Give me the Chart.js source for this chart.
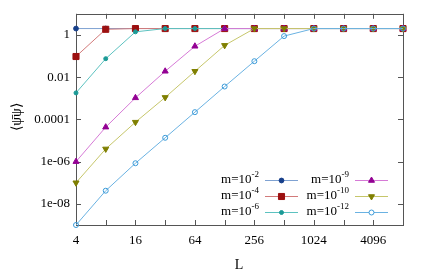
<!DOCTYPE html>
<html>
<head>
<meta charset="utf-8">
<script src="https://cdn.jsdelivr.net/npm/chart.js@4/dist/chart.umd.min.js"></script>
<style>
  html, body { margin: 0; padding: 0; background: #fff; }
  #c { display: block; }
</style>
</head>
<body>
<canvas id="c" width="424" height="277"></canvas>
<script>
// data
var L_vals = [4, 8, 16, 32, 64, 128, 256, 512, 1024, 2048, 4096, 8192];
var x_ticks = [4, 8, 16, 32, 64, 128, 256, 512, 1024, 2048, 4096, 8192];
var x_labels = {4: "4", 16: "16", 64: "64", 256: "256", 1024: "1024", 4096: "4096"};
var y_ticks = [1e-8, 1e-6, 1e-4, 1e-2, 1];
var y_labels = ["1e-08", "1e-06", "0.0001", "0.01", "1"];

var m_exps = ["-2", "-4", "-6", "-9", "-10", "-12"];
var m2 = [2, 2, 2, 2, 2, 2, 2, 2, 2, 2, 2, 2];
var m4 = [0.095, 1.85, 2, 2, 2, 2, 2, 2, 2, 2, 2, 2];
var m6 = [0.0018, 0.075, 1.4, 2, 2, 2, 2, 2, 2, 2, 2, 2];
var m9 = [1e-6, 4.3e-5, 1.05e-3, 0.019, 0.29, 2, 2, 2, 2, 2, 2, 2];
var m10 = [1e-7, 4e-6, 7.4e-5, 1.1e-3, 0.019, 0.32, 2, 2, 2, 2, 2, 2];
var m12 = [1e-9, 4.2e-8, 8.4e-7, 1.35e-5, 2.2e-4, 3.6e-3, 0.057, 0.88, 2, 2, 2, 2];

var series = [m2, m4, m6, m9, m10, m12];
var pt_colors = ["#173f8a", "#9c1010", "#1b9a96", "#930093", "#7f7f00", "#3a9ad8"];
var ln_colors = ["#7fa2d2", "#d27a7a", "#5cc2c0", "#d67ad6", "#c6c66a", "#6ab2e2"];
var pt_styles = ["circle", "rect", "circle", "triangle", "triangle", "circle"];
var pt_rot = [0, 0, 0, 0, 180, 0];
var pt_radius = [2.4, 4.3, 2, 3.5, 3.5, 2.5];
var pt_fill = [true, true, true, true, true, false];

const _font = "'Liberation Serif', 'Times New Roman', serif";
const _frame = "#555555";

var datasets = series.map((vals, i) => ({
    label: "m=10^" + m_exps[i],
    data: vals.map((v, k) => ({x: L_vals[k], y: v})),
    borderColor: ln_colors[i],
    borderWidth: 1,
    pointStyle: pt_styles[i],
    rotation: pt_rot[i],
    pointRadius: pt_radius[i],
    pointBackgroundColor: pt_fill[i] ? pt_colors[i] : "rgba(255,255,255,0)",
    pointBorderColor: pt_colors[i],
    pointBorderWidth: 1,
    fill: false,
    tension: 0,
    clip: false,
    order: 5 - i
}));

// frame, inward ticks, titles and legend
var decor = {
    id: "decor",
    beforeDatasetsDraw(chart) {
        const ctx = chart.ctx;
        const a = chart.chartArea;
        const xs = chart.scales.x, ys = chart.scales.y;
        ctx.save();
        ctx.strokeStyle = _frame;
        ctx.lineWidth = 1;
        ctx.strokeRect(Math.round(a.left) + 0.5, Math.round(a.top) + 0.5,
                       Math.round(a.right - a.left), Math.round(a.bottom - a.top));
        ctx.beginPath();
        x_ticks.forEach(v => {
            const px = Math.round(xs.getPixelForValue(v)) + 0.5;
            ctx.moveTo(px, a.bottom); ctx.lineTo(px, a.bottom - 5);
            ctx.moveTo(px, a.top); ctx.lineTo(px, a.top + 5);
        });
        y_ticks.forEach(v => {
            const py = Math.round(ys.getPixelForValue(v)) + 0.5;
            ctx.moveTo(a.left, py); ctx.lineTo(a.left + 5, py);
            ctx.moveTo(a.right, py); ctx.lineTo(a.right - 5, py);
        });
        ctx.stroke();
        ctx.restore();
    },
    afterDraw(chart) {
        const ctx = chart.ctx;
        ctx.save();
        // axis titles
        ctx.fillStyle = "#000";
        ctx.font = "14px " + _font;
        ctx.textAlign = "center";
        ctx.textBaseline = "middle";
        ctx.fillText("L", 239, 265);
        ctx.save();
        ctx.translate(17, 117);
        ctx.rotate(-Math.PI / 2);
        ctx.fillText("\u27e8\u03c8\u0304\u03c8\u27e9", 0, 0);
        ctx.restore();

        // legend, two columns of three
        const rows = [180, 196, 212];
        const cols = [{tx: 251, l0: 265, l1: 298}, {tx: 341, l0: 355, l1: 388}];
        datasets.forEach((ds, i) => {
            const c = cols[Math.floor(i / 3)];
            const y = rows[i % 3];
            const sup = m_exps[i];
            ctx.font = "9px " + _font;
            const sw = ctx.measureText(sup).width;
            ctx.font = "13px " + _font;
            ctx.textAlign = "right";
            ctx.textBaseline = "middle";
            ctx.fillStyle = "#000";
            const tx = c.tx + 8 - sw;
            ctx.fillText("m=10", tx, y);
            ctx.font = "9px " + _font;
            ctx.textAlign = "left";
            ctx.fillText(sup, tx, y - 5);
            ctx.strokeStyle = ln_colors[i];
            ctx.lineWidth = 1;
            ctx.beginPath();
            ctx.moveTo(c.l0, y + 0.5); ctx.lineTo(c.l1, y + 0.5);
            ctx.stroke();
            ctx.fillStyle = pt_fill[i] ? pt_colors[i] : "#fff";
            ctx.strokeStyle = pt_colors[i];
            Chart.helpers.drawPoint(ctx, {
                pointStyle: pt_styles[i], rotation: pt_rot[i], radius: pt_radius[i],
                borderWidth: 1
            }, (c.l0 + c.l1) / 2, y + 0.5);
        });
        ctx.restore();
    }
};

new Chart(document.getElementById("c"), {
    type: "line",
    data: { datasets: datasets },
    options: {
        responsive: false,
        devicePixelRatio: 1,
        animation: false,
        layout: { padding: { top: 13, right: 21, left: 0, bottom: 0 } },
        plugins: { legend: { display: false }, tooltip: { enabled: false } },
        scales: {
            x: {
                type: "logarithmic",
                min: 4, max: 8192,
                afterBuildTicks: s => { s.ticks = x_ticks.map(v => ({value: v})); },
                afterFit: s => { s.height = 52; },
                grid: { display: false, drawTicks: false },
                border: { display: false },
                ticks: {
                    autoSkip: false, maxRotation: 0, padding: 8,
                    color: "#000", font: { family: _font, size: 13 },
                    callback: v => x_labels[v] || ""
                }
            },
            y: {
                type: "logarithmic",
                min: 1e-9, max: 10,
                afterBuildTicks: s => { s.ticks = y_ticks.map(v => ({value: v})); },
                afterFit: s => { s.width = 76; },
                grid: { display: false, drawTicks: false },
                border: { display: false },
                ticks: {
                    autoSkip: false, padding: 6,
                    color: "#000", font: { family: _font, size: 13 },
                    callback: (v, idx) => y_labels[idx]
                }
            }
        }
    },
    plugins: [decor]
});
</script>
</body>
</html>
